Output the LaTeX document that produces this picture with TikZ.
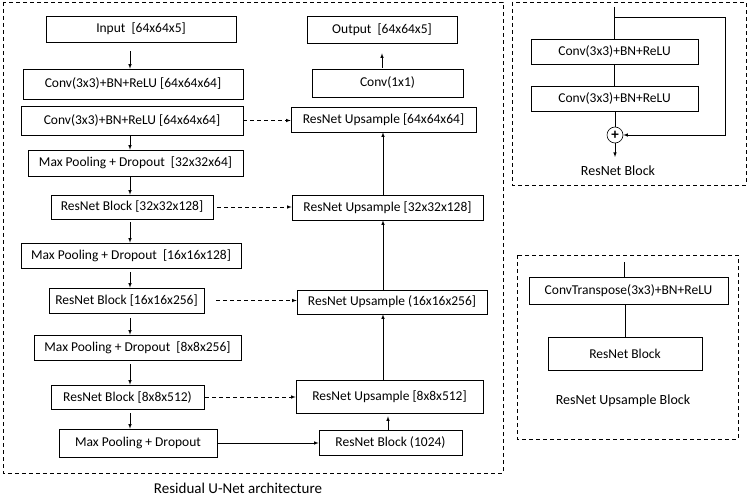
\documentclass[tikz,border=0pt]{standalone}
\usepackage{fontspec}
\setmainfont{Carlito}
\begin{document}
\begin{tikzpicture}[>=latex, x=1pt, y=-1pt, line width=0.6pt,
    blk/.style={draw, inner sep=0pt, font=\fontsize{13.5}{15}\selectfont},
    lbl/.style={inner sep=0pt, font=\fontsize{14}{16}\selectfont},
    frame/.style={draw, line width=0.5pt, dash pattern=on 4pt off 3pt},
    skip/.style={->, dash pattern=on 4pt off 3pt}]
\useasboundingbox (0,0) rectangle (747,497);
% U-Net, encoder side
\foreach \n/\x/\y/\w/\h/\t in {input/141/29/190/26/{Input~~[64x64x5]},
    conv1/133/84/220/30/{Conv(3x3)+BN+ReLU [64x64x64]},
    conv2/132/120.5/222/29/{Conv(3x3)+BN+ReLU [64x64x64]},
    mp1/135.5/163/215/26/{Max Pooling + Dropout~~[32x32x64]},
    rb1/132/207/162/24/{ResNet Block [32x32x128]},
    mp2/131/255.5/220/25/{Max Pooling + Dropout~~[16x16x128]},
    rb2/126.5/300.5/155/25/{ResNet Block [16x16x256]},
    mp3/137.5/347.5/207/25/{Max Pooling + Dropout~~[8x8x256]},
    rb3/127.5/397/153/24/{ResNet Block [8x8x512)},
    mp4/138/443/158/28/{Max Pooling + Dropout}}
{
    \node[blk, minimum width=\w pt, minimum height=\h pt] (\n) at (\x,\y) {\t};
}
% decoder side
\foreach \n/\x/\y/\w/\h/\t in {out/382/29.5/150/27/{Output~~[64x64x5]},
    c11/387.5/83/151/28/{Conv(1x1)},
    up1/383.5/119.5/185/25/{ResNet Upsample [64x64x64]},
    up2/387.5/207.5/191/25/{ResNet Upsample [32x32x128]},
    up3/392/302/190/24/{ResNet Upsample (16x16x256]},
    up4/389.5/396.5/187/33/{ResNet Upsample [8x8x512]},
    bott/390.5/442.5/143/25/{ResNet Block (1024)}}
{
    \node[blk, minimum width=\w pt, minimum height=\h pt] (\n) at (\x,\y) {\t};
}
\coordinate (lx) at (130,0);
\coordinate (rx) at (383,0);
\coordinate (bx) at (388,0);
\foreach \a/\b/\s in {input/conv1/9, conv2/mp1/0, mp1/rb1/0, rb1/mp2/3,
    mp2/rb2/4, rb2/mp3/5, mp3/rb3/4, rb3/mp4/4}
{
    \draw[->, shorten <=\s pt] (\a.south -| lx) -- (\b.north -| lx);
}
\foreach \a/\b in {up2/up1, up3/up2, up4/up3}
{
    \draw[->] (\a.north -| rx) -- (\b.south -| rx);
}
\draw[->, shorten >=3pt] (bott.north -| bx) -- (up4.south -| bx);
\draw[->, shorten <=1pt, shorten >=10pt] (c11.north -| out.south) -- (out.south);
% skip connections
\foreach \a/\b/\s in {conv2/up1/0, rb1/up2/4, rb2/up3/12, rb3/up4/1}
{
    \draw[skip, shorten <=\s pt] (\a.east) -- (\a.east -| \b.west);
}
\draw[->] (mp4.east) -- (mp4.east -| bott.west);
\draw[frame] (3,2) rectangle (503,473);
\node[lbl, font=\fontsize{15}{17}\selectfont] (cap1) at (238,488.5) {Residual U-Net architecture};

% ResNet block
\draw[frame] (512,2) rectangle (746,185);
\node[blk, minimum width=167pt, minimum height=25pt] (rca) at (614.5,51.5) {Conv(3x3)+BN+ReLU};
\node[blk, minimum width=167pt, minimum height=25pt] (rcb) at (614.5,98.5) {Conv(3x3)+BN+ReLU};
\node[draw, circle, inner sep=0pt, minimum size=16pt, font=\fontsize{15}{15}\selectfont\bfseries] (sum) at (615,135) {+};
\coordinate (rin) at (614,7);
\coordinate (rbr) at (614,17);
\coordinate (rc) at (725,135);
\coordinate (rout) at (615,157);
\draw (rin) -- (rin |- rca.north);
\draw (rca.south -| rin) -- (rcb.north -| rin);
\draw (rcb.south -| sum) -- (sum);
\draw[->] (rbr) -| (rc) -- (sum);
\draw[->] (sum) -- (rout);
\node[lbl] (cap2) at (618,171) {ResNet Block};

% ResNet upsample block
\draw[frame] (517,255) rectangle (738,439);
\node[blk, minimum width=199pt, minimum height=27pt] (ct) at (628.5,290.5) {ConvTranspose(3x3)+BN+ReLU};
\node[blk, minimum width=154pt, minimum height=33pt] (rbk) at (625,353.5) {ResNet Block};
\coordinate (uin) at (624,262);
\draw (uin) -- (uin |- ct.north);
\draw (ct.south -| rbk) -- (rbk);
\node[lbl] (cap3) at (623,401) {ResNet Upsample Block};
\end{tikzpicture}
\end{document}
